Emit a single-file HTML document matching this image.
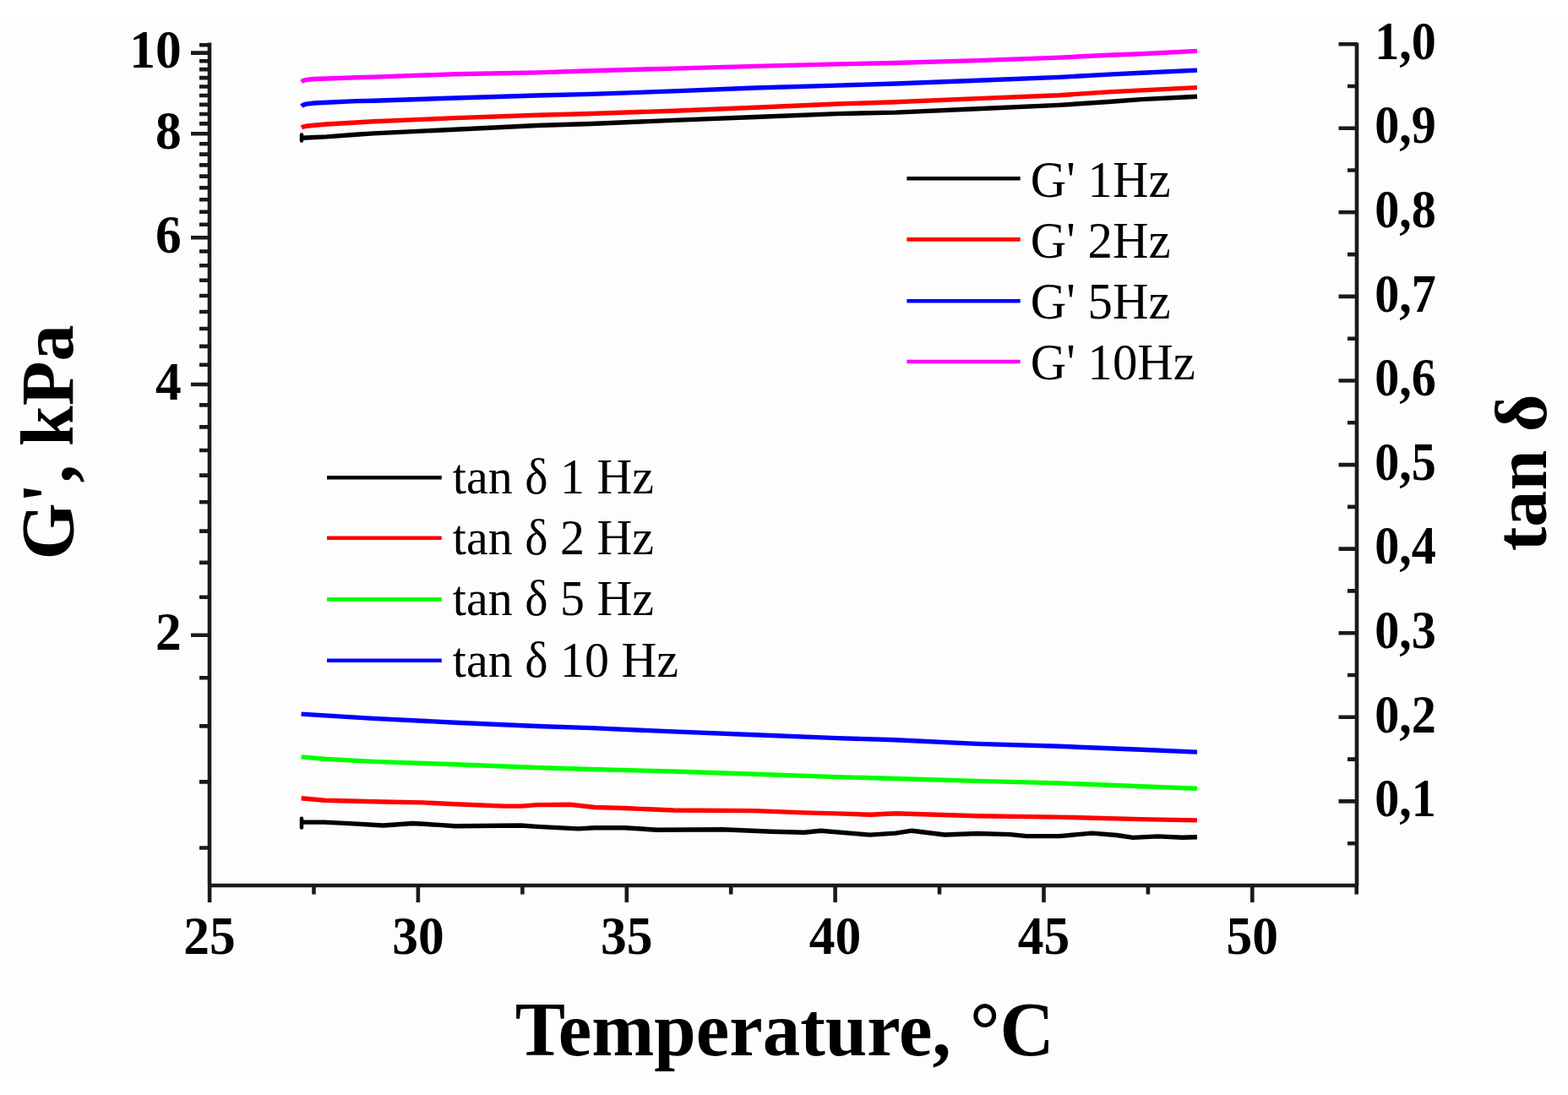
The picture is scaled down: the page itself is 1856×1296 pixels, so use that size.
<!DOCTYPE html>
<html><head><meta charset="utf-8"><title>G' and tan δ vs Temperature</title>
<style>html,body{margin:0;padding:0;background:#fdfdfd;}svg{display:block;}</style></head>
<body>
<svg width="1856" height="1296" viewBox="0 0 1856 1296">
<rect width="1856" height="1296" fill="#fdfdfd"/>
<rect width="1856" height="18.5" fill="#fff"/>
<rect y="1271" width="1856" height="25" fill="#fff"/>
<path d="M248.0,50.5 V1048.0 M1606.0,50.5 V1048.0 M246.0,1048.0 H1608.0 M248.1,1048.0 V1068.0 M494.9,1048.0 V1068.0 M741.8,1048.0 V1068.0 M988.6,1048.0 V1068.0 M1235.5,1048.0 V1068.0 M1482.3,1048.0 V1068.0 M371.5,1048.0 V1058.5 M618.4,1048.0 V1058.5 M865.2,1048.0 V1058.5 M1112.0,1048.0 V1058.5 M1358.9,1048.0 V1058.5 M1605.7,1048.0 V1058.5 M248.0,751.8 H226.0 M248.0,455.0 H226.0 M248.0,281.3 H226.0 M248.0,158.2 H226.0 M248.0,62.6 H226.0 M248.0,706.7 H236.0 M248.0,665.9 H236.0 M248.0,628.6 H236.0 M248.0,594.3 H236.0 M248.0,562.6 H236.0 M248.0,533.0 H236.0 M248.0,505.4 H236.0 M248.0,479.4 H236.0 M248.0,431.8 H236.0 M248.0,409.9 H236.0 M248.0,389.0 H236.0 M248.0,369.0 H236.0 M248.0,350.0 H236.0 M248.0,331.8 H236.0 M248.0,314.3 H236.0 M248.0,297.5 H236.0 M248.0,265.8 H236.0 M248.0,250.7 H236.0 M248.0,236.2 H236.0 M248.0,222.2 H236.0 M248.0,208.6 H236.0 M248.0,195.4 H236.0 M248.0,182.6 H236.0 M248.0,170.2 H236.0 M248.0,146.4 H236.0 M248.0,135.0 H236.0 M248.0,123.9 H236.0 M248.0,113.0 H236.0 M248.0,102.5 H236.0 M248.0,92.1 H236.0 M248.0,82.1 H236.0 M248.0,72.2 H236.0 M248.0,802.2 H236.0 M248.0,859.4 H236.0 M248.0,925.4 H236.0 M248.0,1003.5 H236.0 M248.0,53.2 H236.0 M1606.0,948.4 H1584.5 M1606.0,848.8 H1584.5 M1606.0,749.2 H1584.5 M1606.0,649.6 H1584.5 M1606.0,550.1 H1584.5 M1606.0,450.5 H1584.5 M1606.0,350.9 H1584.5 M1606.0,251.3 H1584.5 M1606.0,151.7 H1584.5 M1606.0,52.2 H1584.5 M1606.0,998.2 H1595.0 M1606.0,898.6 H1595.0 M1606.0,799.0 H1595.0 M1606.0,699.4 H1595.0 M1606.0,599.9 H1595.0 M1606.0,500.3 H1595.0 M1606.0,400.7 H1595.0 M1606.0,301.1 H1595.0 M1606.0,201.5 H1595.0 M1606.0,102.0 H1595.0" stroke="#1a1a1a" stroke-width="4.6" fill="none" stroke-linecap="butt"/>
<g font-family="'Liberation Serif', 'Times New Roman', serif" font-weight="bold" font-size="61.5" fill="#000">
<text transform="translate(214.8,769.4) scale(1,1.025)" text-anchor="end">2</text>
<text transform="translate(214.8,472.6) scale(1,1.025)" text-anchor="end">4</text>
<text transform="translate(214.8,298.9) scale(1,1.025)" text-anchor="end">6</text>
<text transform="translate(214.8,175.8) scale(1,1.025)" text-anchor="end">8</text>
<text transform="translate(214.8,80.2) scale(1,1.025)" text-anchor="end">10</text>
<text transform="translate(1627.2,966.1) scale(0.945,1.025)">0,1</text>
<text transform="translate(1627.2,866.5) scale(0.945,1.025)">0,2</text>
<text transform="translate(1627.2,766.9) scale(0.945,1.025)">0,3</text>
<text transform="translate(1627.2,667.3) scale(0.945,1.025)">0,4</text>
<text transform="translate(1627.2,567.8) scale(0.945,1.025)">0,5</text>
<text transform="translate(1627.2,468.2) scale(0.945,1.025)">0,6</text>
<text transform="translate(1627.2,368.6) scale(0.945,1.025)">0,7</text>
<text transform="translate(1627.2,269.0) scale(0.945,1.025)">0,8</text>
<text transform="translate(1627.2,169.4) scale(0.945,1.025)">0,9</text>
<text transform="translate(1627.2,69.9) scale(0.945,1.025)">1,0</text>
<text transform="translate(248.1,1129.2) scale(1,1.025)" text-anchor="middle">25</text>
<text transform="translate(494.9,1129.2) scale(1,1.025)" text-anchor="middle">30</text>
<text transform="translate(741.8,1129.2) scale(1,1.025)" text-anchor="middle">35</text>
<text transform="translate(988.6,1129.2) scale(1,1.025)" text-anchor="middle">40</text>
<text transform="translate(1235.5,1129.2) scale(1,1.025)" text-anchor="middle">45</text>
<text transform="translate(1482.3,1129.2) scale(1,1.025)" text-anchor="middle">50</text>
</g>
<g font-family="'Liberation Serif', 'Times New Roman', serif" font-weight="bold" font-size="90" fill="#000">
<text transform="translate(928.7,1249) scale(0.988,1)" text-anchor="middle">Temperature, °C</text>
<text transform="translate(85.8,523.5) rotate(-90) scale(0.97,1)" text-anchor="middle" font-size="89">G', kPa</text>
<text transform="translate(1829.8,559.4) rotate(-90) scale(0.99,1)" text-anchor="middle" font-size="87">tan δ</text>
</g>
<g fill="none" stroke-width="5.4" stroke-linejoin="round" stroke-linecap="butt">
<polyline stroke="#ff00ff" points="357.0,97.0 358.5,95.7 362.4,94.5 372.0,93.5 386.7,93.0 421.4,91.7 442.0,91.1 539.0,87.8 636.0,85.9 700.0,83.7 797.0,81.1 894.0,78.4 991.0,75.9 1058.8,74.5 1157.0,71.6 1254.0,68.1 1312.0,65.2 1351.0,63.7 1417.0,60.4"/>
<polyline stroke="#0000ff" points="357.0,125.8 358.5,124.4 362.4,123.1 372.0,122.0 386.7,121.2 421.4,119.6 442.0,119.3 539.0,116.0 636.0,113.0 700.0,111.4 797.0,107.9 894.0,104.0 991.0,101.1 1060.0,99.0 1157.0,95.3 1254.0,91.4 1312.0,88.1 1351.0,86.2 1417.0,83.1"/>
<polyline stroke="#ff0000" points="357.0,151.1 358.5,150.2 362.4,149.3 372.0,148.3 386.7,147.0 421.4,145.0 442.0,143.8 539.0,139.6 636.0,136.3 700.0,134.5 797.0,131.2 894.0,127.3 991.0,123.0 1060.0,120.8 1157.0,116.6 1254.0,112.7 1312.0,108.9 1351.0,106.9 1417.0,103.6"/>
<polyline stroke="#000000" points="357.0,163.2 386.7,161.9 421.4,159.2 442.0,157.9 539.0,153.2 636.0,148.5 700.0,146.5 797.0,142.4 894.0,138.5 991.0,134.6 1060.0,133.1 1157.0,128.8 1254.0,124.4 1312.0,120.5 1351.0,117.6 1417.0,114.3"/>
<polyline stroke="#0000ff" points="356.6,845.1 442.0,850.4 539.0,855.2 636.0,859.5 700.0,861.6 797.0,865.9 894.0,869.8 991.0,873.6 1060.0,875.8 1157.0,880.4 1254.0,883.3 1351.0,887.2 1417.0,890.1"/>
<polyline stroke="#00ff00" points="356.6,895.9 383.8,898.3 442.0,901.4 539.0,904.7 636.0,908.5 700.0,910.5 797.0,913.0 894.0,916.3 991.0,919.6 1060.0,921.5 1157.0,924.4 1254.0,926.9 1351.0,930.8 1417.0,933.3"/>
<polyline stroke="#ff0000" points="356.6,944.8 383.8,947.3 442.0,948.7 500.2,949.9 539.0,951.8 597.1,954.1 616.5,954.1 636.0,952.6 674.7,952.2 703.8,955.5 738.8,956.5 797.0,959.0 894.0,959.6 952.1,961.9 991.0,962.9 1029.7,964.2 1060.0,962.7 1157.0,965.7 1254.0,967.1 1351.0,969.6 1417.0,970.9"/>
<polyline stroke="#000000" points="356.6,973.1 383.8,973.1 422.6,975.1 453.6,977.0 488.5,974.5 519.6,976.4 539.0,977.8 616.5,977.0 636.0,978.4 684.4,980.9 703.8,979.7 738.8,979.7 777.6,982.2 855.2,981.7 913.3,984.2 952.1,985.2 971.5,983.2 1029.7,988.1 1060.0,986.1 1079.4,983.2 1118.2,988.0 1157.0,986.5 1195.8,987.6 1215.2,989.6 1254.0,989.6 1292.7,986.1 1321.8,988.5 1341.2,991.4 1370.3,989.9 1399.4,991.3 1417.0,990.7"/>
<path d="M357,159.6 V166.6 M357,968.8 V979.4" stroke="#000" stroke-width="4.5" stroke-linecap="round"/>
</g>
<g stroke-width="4.6" fill="none">
<path d="M1073.4,211.3 H1207.7" stroke="#000"/>
<path d="M1073.4,283.4 H1207.7" stroke="#ff0000"/>
<path d="M1073.4,356.3 H1207.7" stroke="#0000ff"/>
<path d="M1073.4,428.0 H1207.7" stroke="#ff00ff"/>
<path d="M387,565.2 H522.8" stroke="#000"/>
<path d="M387,636.8 H522.8" stroke="#ff0000"/>
<path d="M387,709.4 H522.8" stroke="#00ff00"/>
<path d="M387,781.7 H522.8" stroke="#0000ff"/>
</g>
<g font-family="'Liberation Serif', 'Times New Roman', serif" font-size="58" fill="#000">
<text transform="translate(1219.8,232.8) scale(1,1.035)" font-size="58.8">G' 1Hz</text>
<text transform="translate(1219.8,305.0) scale(1,1.035)" font-size="58.8">G' 2Hz</text>
<text transform="translate(1219.8,377.2) scale(1,1.035)" font-size="58.8">G' 5Hz</text>
<text transform="translate(1219.8,449.4) scale(1,1.035)" font-size="58.8">G' 10Hz</text>
<text transform="translate(535.8,584.0) scale(1,1.035)">tan δ 1 Hz</text>
<text transform="translate(535.8,656.2) scale(1,1.035)">tan δ 2 Hz</text>
<text transform="translate(535.8,728.4) scale(1,1.035)">tan δ 5 Hz</text>
<text transform="translate(535.8,800.6) scale(1,1.035)">tan δ 10 Hz</text>
</g>
</svg>
</body></html>
